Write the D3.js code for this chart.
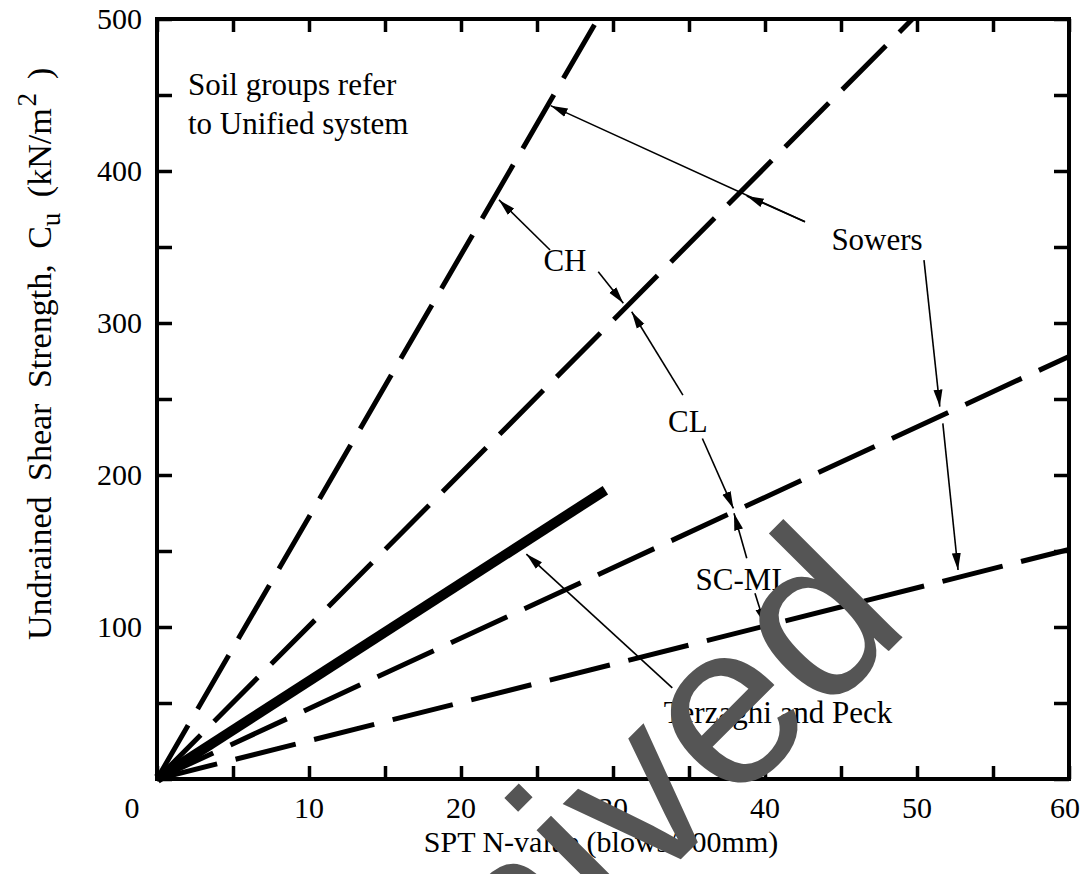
<!DOCTYPE html>
<html><head><meta charset="utf-8">
<script src="https://cdn.jsdelivr.net/npm/d3@7"></script>
<style>
body{margin:0;background:#fff}
svg{display:block}
text{font-family:"Liberation Serif","Times New Roman",serif;fill:#000}
</style>
</head><body>
<svg id="chart" width="1089" height="874"></svg>
<script>
// ---------- data ----------
const xTickValues = [0,5,10,15,20,25,30,35,40,45,50,55,60];
const xLabelValues = [0,10,20,30,40,50,60];
const yTickValues = [0,50,100,150,200,250,300,350,400,450,500];
const yLabelValues = [100,200,300,400,500];

// Sowers correlations (dashed), [N, Cu] end points of straight lines from origin
const sowersCH   = [[0,0],[29.0,500]];
const sowersCL   = [[0,0],[49.7,500]];
const sowersSCML1 = [[0,0],[60,278]];
const sowersSCML2 = [[0,0],[60,151]];
// Terzaghi and Peck (solid, heavy)
const terzaghiPeck = [[0,0],[29.5,190]];

// annotation arrows: from [N,Cu] -> to [N,Cu]
const arrowFrom = [[25.86,348],[29.03,333.7],[34.6,252.6],[35.88,224],[38.8,145.2],[39.34,122.2],[42.63,366.6],[42.63,366.6],[50.46,341.4],[51.7,234],[33.9,59.9]];
const arrowTo   = [[22.5,381],[30.68,313],[31.23,307.4],[37.92,178],[37.96,174.8],[40.0,101.3],[25.9,443],[38.8,383.6],[51.5,245],[52.7,137.5],[24.3,148]];

// annotation labels (anchor N, Cu)
const labelText = ["CH","CL","SC-ML","Sowers","Terzaghi and Peck"];
const labelPos  = [[26.84,334],[34.93,228.3],[38.55,124.3],[47.37,348],[40.86,36.8]];
const noteText  = ["Soil groups refer","to Unified system"];
const notePos   = [[2.04,450],[2.04,424.5]];

const xTitle = "SPT N-value (blows/300mm)";
const watermark = "Archived";

// ---------- drawing ----------
const svg = d3.select("#chart");
const x = d3.scaleLinear().domain([0,60]).range([157,1069]);
const y = d3.scaleLinear().domain([0,500]).range([779,19]);

const defs = svg.append("defs");
defs.append("marker").attr("id","ah")
  .attr("markerUnits","userSpaceOnUse")
  .attr("markerWidth",18).attr("markerHeight",10)
  .attr("refX",17).attr("refY",5).attr("orient","auto")
  .append("path").attr("d","M0,0.5 L17,5 L0,9.5 Z").attr("fill","#000");

const line = d3.line().x(d=>x(d[0])).y(d=>y(d[1]));

// dashed Sowers lines
[sowersCH, sowersCL, sowersSCML1, sowersSCML2].forEach(s=>{
  svg.append("path").attr("d",line(s)).attr("fill","none")
    .attr("stroke","#000").attr("stroke-width",5)
    .attr("stroke-dasharray","62 19");
});
// Terzaghi & Peck heavy solid
svg.append("path").attr("d",line(terzaghiPeck)).attr("fill","none")
  .attr("stroke","#000").attr("stroke-width",10);

// arrows
arrowFrom.forEach((f,i)=>{
  const t = arrowTo[i];
  svg.append("line").attr("x1",x(f[0])).attr("y1",y(f[1]))
    .attr("x2",x(t[0])).attr("y2",y(t[1]))
    .attr("stroke","#000").attr("stroke-width",1.6)
    .attr("marker-end","url(#ah)");
});

// labels
labelText.forEach((t,i)=>{
  svg.append("text").attr("x",x(labelPos[i][0])).attr("y",y(labelPos[i][1]))
    .attr("text-anchor","middle").attr("font-size",31).text(t);
});
noteText.forEach((t,i)=>{
  svg.append("text").attr("x",x(notePos[i][0])).attr("y",y(notePos[i][1]))
    .attr("text-anchor","start").attr("font-size",31).text(t);
});

// frame
svg.append("rect").attr("x",x(0)).attr("y",y(500))
  .attr("width",x(60)-x(0)).attr("height",y(0)-y(500))
  .attr("fill","none").attr("stroke","#000").attr("stroke-width",4);

// axes with inward ticks
const axB = d3.axisBottom(x).tickValues(xTickValues).tickSize(-13).tickFormat("");
const axT = d3.axisTop(x).tickValues(xTickValues).tickSize(-13).tickFormat("");
const axL = d3.axisLeft(y).tickValues(yTickValues).tickSize(-15).tickFormat("");
const axR = d3.axisRight(y).tickValues(yTickValues).tickSize(-15).tickFormat("");
[[axB,`translate(0,${y(0)})`],[axT,`translate(0,${y(500)})`],[axL,`translate(${x(0)},0)`],[axR,`translate(${x(60)},0)`]].forEach(([a,tr])=>{
  const g = svg.append("g").attr("transform",tr).call(a);
  g.select(".domain").remove();
  g.selectAll(".tick line").attr("stroke","#000").attr("stroke-width",3.5);
});

// tick labels
svg.append("g").selectAll("text").data(xLabelValues).join("text")
  .attr("x",d=>x(d) + (d===0 ? -25 : (d===60 ? -4 : 0)))
  .attr("y",y(0)+39).attr("text-anchor","middle").attr("font-size",30)
  .text(d=>d);
svg.append("g").selectAll("text").data(yLabelValues).join("text")
  .attr("x",x(0)-15).attr("y",d=>y(d)+10).attr("text-anchor","end").attr("font-size",30)
  .text(d=>d);

// axis titles
svg.append("text").attr("x",(x(0)+x(60))/2 - 12).attr("y",852)
  .attr("text-anchor","middle").attr("font-size",30).text(xTitle);

const yt = svg.append("text").attr("transform","translate(51,640) rotate(-90)")
  .attr("text-anchor","start").attr("font-size",34).attr("word-spacing",7);
yt.append("tspan").text("Undrained Shear Strength, C");
yt.append("tspan").attr("dy",9).attr("font-size",27).text("u");
yt.append("tspan").attr("dy",-9).text(" (kN/m");
yt.append("tspan").attr("dy",-15).attr("dx",2).attr("font-size",27).text("2");
yt.append("tspan").attr("dy",15).attr("dx",14).text(")");

// watermark
svg.append("text").attr("transform","translate(275,1265) rotate(-45)")
  .style("font-family","'Liberation Sans', Arial, sans-serif")
  .style("fill","#555").attr("font-size",232).text(watermark);
</script>
</body></html>
